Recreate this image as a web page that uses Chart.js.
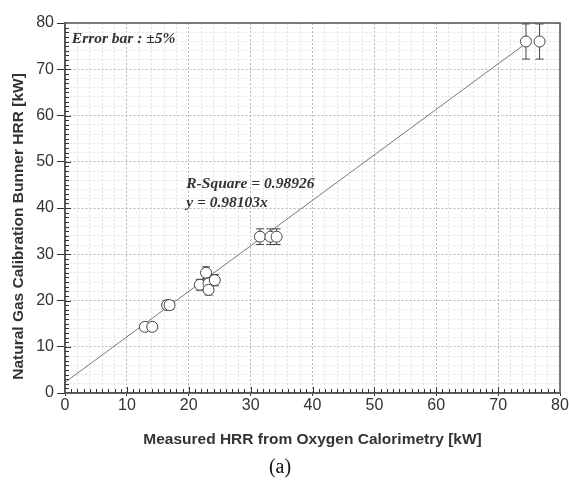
<!DOCTYPE html>
<html>
<head>
<meta charset="utf-8">
<script src="https://cdn.jsdelivr.net/npm/chart.js"></script>
<style>
    html, body { margin: 0; padding: 0; background: #fff; }
    #wrap { width: 569px; height: 481px; }
</style>
</head>
<body>
<div id="wrap"><canvas id="hrrChart" width="569" height="481"></canvas></div>
<script>
/* ======================
   DATA
   ====================== */

// Measured HRR (oxygen calorimetry) vs burner HRR, kW
const measuredHRR = [12.9, 14.1, 16.5, 16.9, 21.8, 22.8, 23.2, 23.2, 24.2, 31.5, 33.2, 34.2, 74.5, 76.7];
const burnerHRR   = [14.3, 14.3, 19.0, 19.0, 23.4, 26.0, 23.7, 22.3, 24.4, 33.8, 33.8, 33.8, 76.0, 76.0];

// Fitted line end points
const fitX = [0, 74.5];
const fitY = [2.3, 75.6];

const errorPct = 0.05;
const axisTicks = [0, 10, 20, 30, 40, 50, 60, 70, 80];

const yTitle = 'Natural Gas Calibration Bunner HRR [kW]';
const noteLines = [
    { text: 'Error bar : \u00b15%', x: 1.1, y: 76.5 },
    { text: 'R-Square = 0.98926', x: 19.6, y: 45.2 },
    { text: 'y = 0.98103x', x: 19.6, y: 41.1 }
];

/* ======================
   PLUGINS
   ====================== */

const frameColor = '#555';
const inkColor = '#333';
const sansFamily = '"Liberation Sans", Arial, sans-serif';

// error bars drawn under the circles
const errorBars = {
    id: 'errorBars',
    beforeDatasetsDraw(chart) {
        const { ctx, scales: { x, y } } = chart;
        ctx.save();
        ctx.strokeStyle = '#444';
        ctx.lineWidth = 1;
        measuredHRR.forEach((mx, i) => {
            const px = x.getPixelForValue(mx);
            const top = y.getPixelForValue(burnerHRR[i] * (1 + errorPct));
            const bot = y.getPixelForValue(burnerHRR[i] * (1 - errorPct));
            ctx.beginPath();
            ctx.moveTo(px, top); ctx.lineTo(px, bot);
            ctx.moveTo(px - 4, top); ctx.lineTo(px + 4, top);
            ctx.moveTo(px - 4, bot); ctx.lineTo(px + 4, bot);
            ctx.stroke();
        });
        ctx.restore();
    }
};

// box frame, inward minor ticks, y title, notes
const frameAndNotes = {
    id: 'frameAndNotes',
    afterDraw(chart) {
        const { ctx, chartArea: a, scales: { x, y } } = chart;
        ctx.save();
        ctx.strokeStyle = frameColor;
        ctx.lineWidth = 1.5;
        ctx.strokeRect(a.left, a.top, a.right - a.left, a.bottom - a.top);

        ctx.lineWidth = 1;
        ctx.strokeStyle = inkColor;
        ctx.beginPath();
        for (let v = 1; v < 80; v++) {
            const len = v % 10 === 0 ? 6 : 4;
            const px = Math.round(x.getPixelForValue(v)) + 0.5;
            ctx.moveTo(px, a.bottom); ctx.lineTo(px, a.bottom - len);
            const py = Math.round(y.getPixelForValue(v)) + 0.5;
            ctx.moveTo(a.left, py); ctx.lineTo(a.left + len, py);
        }
        ctx.stroke();

        // y title sits a bit below the axis middle in the original
        ctx.save();
        ctx.translate(19, a.top + (a.bottom - a.top) * 0.55);
        ctx.rotate(-Math.PI / 2);
        ctx.font = 'bold 15.5px ' + sansFamily;
        ctx.fillStyle = inkColor;
        ctx.textAlign = 'center';
        ctx.textBaseline = 'middle';
        ctx.fillText(yTitle, 0, 0);
        ctx.restore();

        ctx.fillStyle = inkColor;
        ctx.font = 'italic bold 15.5px "Liberation Serif", serif';
        ctx.textBaseline = 'middle';
        noteLines.forEach(n => {
            ctx.fillText(n.text, x.getPixelForValue(n.x), y.getPixelForValue(n.y));
        });
        ctx.restore();
    }
};

/* ======================
   CHART
   ====================== */

const gridColor = (ctx) => {
    const v = ctx.tick ? ctx.tick.value : 0;
    if (v % 10 === 0) return '#b8b8b8';
    if (v % 2 === 0) return '#e2e2e2';
    return 'rgba(0,0,0,0)';
};
const tickMarkColor = (ctx) => (ctx.tick && ctx.tick.value % 10 === 0 ? inkColor : 'rgba(0,0,0,0)');
const tickLabel = (v) => (axisTicks.includes(v) ? String(v) : '');

const labelFont = { family: sansFamily, size: 16 };
const titleFont = { family: sansFamily, size: 15.5, weight: 'bold' };

new Chart(document.getElementById('hrrChart'), {
    type: 'scatter',
    data: {
        datasets: [
            {
                type: 'line',
                data: fitX.map((v, i) => ({ x: v, y: fitY[i] })),
                borderColor: '#777',
                borderWidth: 1,
                pointRadius: 0,
                fill: false,
                order: 2
            },
            {
                data: measuredHRR.map((v, i) => ({ x: v, y: burnerHRR[i] })),
                backgroundColor: '#fff',
                borderColor: '#444',
                borderWidth: 1,
                pointRadius: 5.5,
                order: 1
            }
        ]
    },
    options: {
        responsive: false,
        animation: false,
        events: [],
        layout: { padding: { left: 0, right: 9, top: 23, bottom: 0 } },
        plugins: {
            legend: { display: false },
            tooltip: { enabled: false },
            title: {
                display: true,
                position: 'bottom',
                text: '(a)',
                color: '#111',
                font: { family: '"Liberation Serif", serif', size: 20, weight: 'normal' },
                padding: { top: 5, bottom: 1 }
            }
        },
        scales: {
            x: {
                type: 'linear',
                min: 0, max: 80,
                afterFit: (s) => { s.height = 58; },
                ticks: {
                    stepSize: 1, autoSkip: false, maxRotation: 0,
                    callback: tickLabel, color: inkColor, font: labelFont, padding: 0
                },
                grid: { color: gridColor, tickColor: tickMarkColor, tickLength: 3 },
                border: { display: true, color: frameColor, width: 1.5, dash: [2, 2] },
                title: {
                    display: true, text: 'Measured HRR from Oxygen Calorimetry [kW]',
                    color: inkColor, font: titleFont, padding: { top: 0, bottom: 2 }
                }
            },
            y: {
                type: 'linear',
                min: 0, max: 80,
                afterFit: (s) => { s.width = 65; },
                ticks: {
                    stepSize: 1, autoSkip: false,
                    callback: tickLabel, color: inkColor, font: labelFont, padding: 3
                },
                grid: { color: gridColor, tickColor: tickMarkColor, tickLength: 8 },
                border: { display: true, color: frameColor, width: 1.5, dash: [2, 2] }
            }
        }
    },
    plugins: [errorBars, frameAndNotes]
});
</script>
</body>
</html>
